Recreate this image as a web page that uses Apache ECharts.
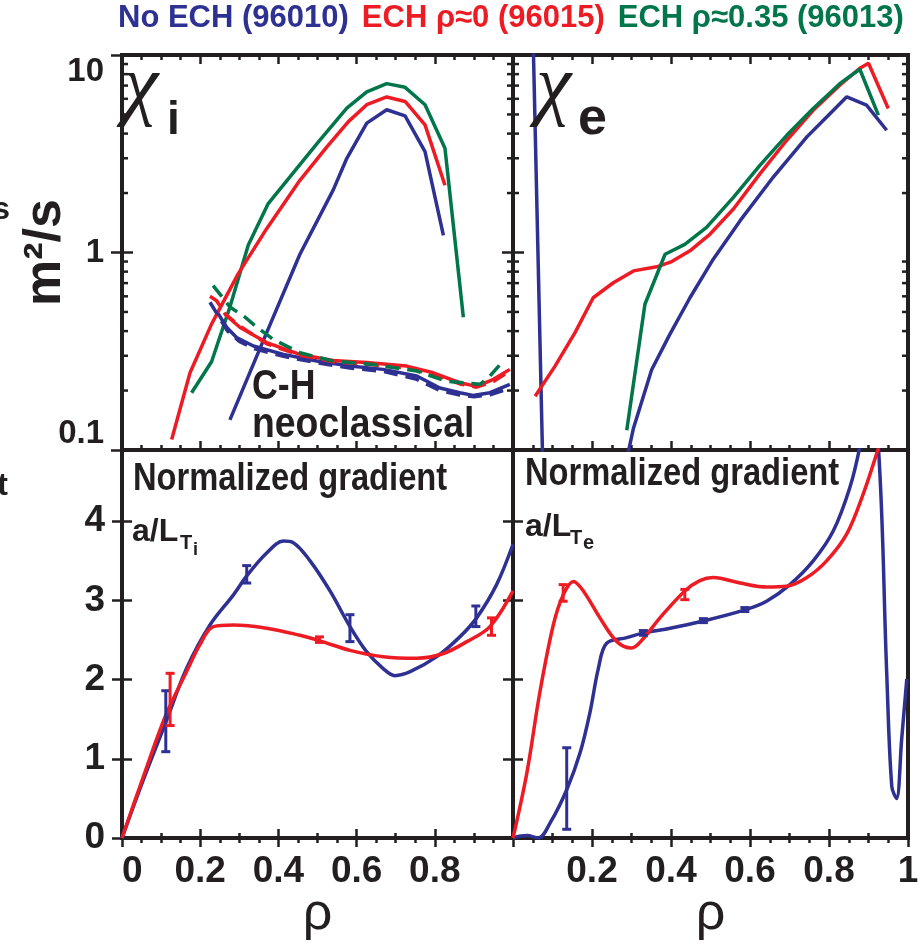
<!DOCTYPE html>
<html>
<head>
<meta charset="utf-8">
<style>
html, body { margin: 0; padding: 0; background: #fff; }
#chart { width: 923px; height: 947px; }
</style>
<script src="https://cdn.jsdelivr.net/npm/echarts@6/dist/echarts.min.js"></script>
</head>
<body>
<div id="chart"></div>
<script>
// case names (legend)
const NAME_NO = 'No ECH (96010)';
const NAME_0 = 'ECH ρ≈0 (96015)';
const NAME_35 = 'ECH ρ≈0.35 (96013)';

// chi_i  [rho, m2/s]
const chiI_no = [[0.276,0.142],[0.37,0.393],[0.455,0.98],[0.54,2.07],[0.575,3.0],[0.626,4.52],[0.677,5.28],[0.724,4.92],[0.775,3.24],[0.822,1.22]];
const chiI_0 = [[0.127,0.113],[0.174,0.246],[0.229,0.434],[0.297,0.78],[0.37,1.32],[0.455,2.32],[0.524,3.43],[0.579,4.6],[0.626,5.6],[0.677,6.13],[0.724,5.82],[0.775,4.43],[0.826,2.19]];
const chiI_35 = [[0.178,0.195],[0.229,0.28],[0.276,0.53],[0.323,1.09],[0.374,1.77],[0.43,2.42],[0.506,3.71],[0.575,5.38],[0.626,6.5],[0.677,7.16],[0.724,6.86],[0.775,5.6],[0.826,3.37],[0.873,0.47]];

// C-H neoclassical chi_i
const neo_no = [[0.246,0.49],[0.268,0.417],[0.293,0.371],[0.336,0.336],[0.413,0.305],[0.498,0.282],[0.583,0.266],[0.668,0.256],[0.754,0.237],[0.813,0.206],[0.864,0.195],[0.898,0.189],[0.941,0.195],[0.992,0.215]];
const neo_no_dash = [[0.225,0.56],[0.24,0.5],[0.27,0.4],[0.3,0.355],[0.34,0.325],[0.413,0.298],[0.5,0.276],[0.583,0.26],[0.668,0.25],[0.754,0.228],[0.813,0.2],[0.864,0.19],[0.9,0.186],[0.941,0.19],[0.99,0.205]];
const neo_0 = [[0.263,0.487],[0.302,0.417],[0.37,0.35],[0.455,0.305],[0.54,0.284],[0.626,0.277],[0.728,0.266],[0.796,0.246],[0.864,0.219],[0.907,0.21],[0.95,0.228],[0.992,0.256]];
const neo_0_dash = [[0.225,0.6],[0.242,0.57],[0.263,0.49],[0.297,0.43],[0.37,0.345],[0.455,0.302],[0.54,0.28],[0.626,0.272],[0.728,0.26],[0.796,0.242],[0.864,0.216],[0.907,0.208],[0.95,0.222],[0.99,0.25]];
const neo_35_dash = [[0.233,0.68],[0.255,0.6],[0.276,0.53],[0.315,0.47],[0.344,0.42],[0.387,0.363],[0.455,0.311],[0.54,0.282],[0.643,0.271],[0.754,0.251],[0.83,0.223],[0.916,0.215],[0.941,0.237],[0.971,0.277]];

// chi_e
const chiE_no_edge = [[0.051,12],[0.075,0.09]];
const chiE_no = [[0.288,0.09],[0.305,0.129],[0.351,0.255],[0.397,0.385],[0.448,0.59],[0.507,0.925],[0.575,1.45],[0.659,2.41],[0.744,3.85],[0.803,5.06],[0.845,6.14],[0.895,5.57],[0.946,4.16]];
const chiE_0 = [[0.056,0.187],[0.106,0.265],[0.157,0.393],[0.203,0.59],[0.254,0.703],[0.305,0.807],[0.364,0.846],[0.402,0.9],[0.448,1.02],[0.499,1.24],[0.558,1.66],[0.625,2.5],[0.693,3.7],[0.76,5.25],[0.828,7.05],[0.878,8.57],[0.9,9.08],[0.95,5.36]];
const chiE_35 = [[0.288,0.126],[0.334,0.547],[0.385,0.98],[0.435,1.1],[0.49,1.34],[0.558,1.9],[0.625,2.76],[0.693,3.92],[0.76,5.36],[0.828,7.18],[0.878,8.47],[0.925,4.96]];

// normalized gradients a/L_Ti, a/L_Te
const gradTi_no = [[0,0],[0.055,0.74],[0.112,1.46],[0.165,2.14],[0.225,2.69],[0.285,3.07],[0.319,3.31],[0.37,3.6],[0.413,3.75],[0.438,3.73],[0.481,3.5],[0.532,3.12],[0.583,2.67],[0.626,2.35],[0.668,2.14],[0.698,2.05],[0.737,2.1],[0.805,2.29],[0.864,2.54],[0.907,2.78],[0.958,3.2],[1.0,3.71]];
const gradTi_0 = [[0,0],[0.055,0.78],[0.112,1.55],[0.165,2.1],[0.199,2.44],[0.234,2.67],[0.285,2.69],[0.37,2.65],[0.455,2.56],[0.506,2.49],[0.583,2.37],[0.668,2.29],[0.754,2.27],[0.822,2.33],[0.882,2.48],[0.941,2.67],[1.0,3.12]];
const gradTe_no = [[0,0],[0.035,0.03],[0.064,0],[0.094,0.19],[0.136,0.61],[0.17,1.08],[0.195,1.59],[0.216,2.14],[0.237,2.46],[0.288,2.53],[0.33,2.59],[0.389,2.64],[0.482,2.74],[0.587,2.88],[0.642,2.99],[0.701,3.2],[0.76,3.5],[0.811,3.88],[0.853,4.43],[0.878,4.94],[0.9,5.6],[0.925,4.94],[0.946,2.1],[0.959,0.65],[0.971,0.5],[0.984,1.25],[0.997,2.01]];
const gradTe_0 = [[0,0],[0.035,0.82],[0.068,1.84],[0.102,2.69],[0.127,3.07],[0.153,3.24],[0.178,3.12],[0.22,2.78],[0.263,2.48],[0.3,2.4],[0.33,2.52],[0.372,2.78],[0.435,3.12],[0.473,3.25],[0.507,3.29],[0.575,3.22],[0.642,3.17],[0.693,3.18],[0.744,3.29],[0.794,3.5],[0.845,3.84],[0.887,4.35],[0.925,4.92],[0.93,5.0]];

// error bars [rho, low, high]
const errTi_no = [[0.112,1.09,1.86],[0.319,3.22,3.44],[0.583,2.48,2.82],[0.905,2.67,2.93]];
const errTi_0 = [[0.123,1.42,2.08],[0.505,2.47,2.54],[0.945,2.56,2.78]];
const errTe_no = [[0.136,0.11,1.14],[0.33,2.56,2.62],[0.482,2.72,2.77],[0.587,2.86,2.91]];
const errTe_0 = [[0.127,2.99,3.2],[0.435,3.01,3.14]];

// axis ticks
const logMinorTicks = [0.2,0.3,0.4,0.5,0.6,0.7,0.8,0.9,2,3,4,5,6,7,8,9];

const INK = '#231f20';
const BLUE = '#2e3192', RED = '#ed1c24', GREEN = '#00764a';
const SANS = '"Liberation Sans", Arial, sans-serif';
const SERIF = '"Liberation Serif", "DejaVu Serif", serif';

const chart = echarts.init(document.getElementById('chart'));

const grids = [
  { left: 122, top: 55, width: 391, height: 395 },
  { left: 513, top: 55, width: 395, height: 395 },
  { left: 122, top: 450, width: 391, height: 388 },
  { left: 513, top: 450, width: 395, height: 388 }
].map(g => Object.assign({ show: true, borderWidth: 4, borderColor: INK, backgroundColor: 'transparent' }, g));

const tickStyle = { color: INK, width: 2.5 };

function xAx(g, pos, minorSplit, label) {
  return {
    type: 'value', gridIndex: g, position: pos, min: 0, max: 1, interval: 0.2,
    axisLine: { show: false },
    axisTick: { show: true, inside: true, length: 9, lineStyle: tickStyle },
    minorTick: { show: true, splitNumber: minorSplit, length: 5, lineStyle: tickStyle },
    splitLine: { show: false },
    axisLabel: label || { show: false }
  };
}

function logY(g, pos, label, extra) {
  return Object.assign({
    type: 'log', logBase: 10, gridIndex: g, position: pos, min: 0.1, max: 10,
    axisLine: { show: false },
    axisTick: { show: true, inside: true, length: 11, lineStyle: tickStyle },
    splitLine: { show: false },
    axisLabel: label || { show: false }
  }, extra || {});
}

function linY(g, pos, label, extra) {
  return Object.assign({
    type: 'value', gridIndex: g, position: pos, min: 0, max: 4.9, interval: 1,
    axisLine: { show: false },
    axisTick: { show: true, inside: true, length: 10, lineStyle: tickStyle },
    splitLine: { show: false },
    axisLabel: label || { show: false }
  }, extra || {});
}

const xLabel = (hideMin, hideMax) => ({
  show: true, color: INK, fontFamily: SANS, fontWeight: 'bold', fontSize: 37, margin: 15,
  showMinLabel: !hideMin, showMaxLabel: !hideMax, alignMinLabel: 'left',
  formatter: v => (v === 0 ? '0' : v >= 0.999 ? '1' : v.toFixed(1))
});

const rhoName = { name: 'ρ', nameLocation: 'middle', nameGap: 51, nameMoveOverlap: false,
  nameTextStyle: { fontFamily: SANS, fontSize: 52, color: INK } };

const xAxes = [
  xAx(0, 'bottom', 4), xAx(0, 'top', 4),
  xAx(1, 'bottom', 4), xAx(1, 'top', 4),
  Object.assign(xAx(2, 'bottom', 2, xLabel(false, true)), rhoName), xAx(2, 'top', 4),
  Object.assign(xAx(3, 'bottom', 2, xLabel(true, false)), rhoName), xAx(3, 'top', 4)
];

const yAxes = [
  logY(0, 'left', {
    show: true, color: INK, fontFamily: SANS, fontWeight: 'bold', fontSize: 33, margin: 18,
    verticalAlignMinLabel: 'bottom', verticalAlignMaxLabel: 'top',
    formatter: v => (v < 0.5 ? '0.1' : v < 5 ? '1' : '10')
  }, {
    name: 'm²/s', nameLocation: 'middle', nameGap: 50, nameRotate: 90, nameMoveOverlap: false,
    nameTextStyle: { fontFamily: SANS, fontWeight: 'bold', fontSize: 52, color: INK }
  }),
  logY(0, 'right'),
  logY(1, 'left'), logY(1, 'right'),
  linY(2, 'left', {
    show: true, color: INK, fontFamily: SANS, fontWeight: 'bold', fontSize: 37, margin: 17,
    showMaxLabel: false
  }),
  linY(2, 'right'),
  linY(3, 'left'), linY(3, 'right')
];

function line(name, color, g, data, dashed, smooth) {
  return {
    type: 'line', name, xAxisIndex: 2 * g, yAxisIndex: 2 * g, data,
    symbol: 'none', showSymbol: false, smooth: smooth ? 0.35 : false, clip: true,
    lineStyle: { color, width: 3.5, type: dashed ? [14, 8] : 'solid' },
    itemStyle: { color }, z: 3
  };
}

function errBars(name, color, g, data) {
  return {
    type: 'custom', name, xAxisIndex: 2 * g, yAxisIndex: 2 * g, data, z: 5,
    encode: { x: 0, y: [1, 2] },
    renderItem: (params, api) => {
      const lo = api.coord([api.value(0), api.value(1)]);
      const hi = api.coord([api.value(0), api.value(2)]);
      const w = 4.5;
      const st = { stroke: color, lineWidth: 3 };
      return { type: 'group', children: [
        { type: 'line', shape: { x1: lo[0], y1: lo[1], x2: hi[0], y2: hi[1] }, style: st },
        { type: 'line', shape: { x1: lo[0] - w, y1: lo[1], x2: lo[0] + w, y2: lo[1] }, style: st },
        { type: 'line', shape: { x1: hi[0] - w, y1: hi[1], x2: hi[0] + w, y2: hi[1] }, style: st }
      ] };
    }
  };
}

function logMinor(g) {
  return {
    type: 'custom', xAxisIndex: 2 * g, yAxisIndex: 2 * g, silent: true, z: 1,
    data: logMinorTicks.map(v => [0, v]),
    renderItem: (params, api) => {
      const y = api.coord([0, api.value(1)])[1];
      const cs = params.coordSys;
      const st = { stroke: INK, lineWidth: 2.5 };
      return { type: 'group', children: [
        { type: 'line', shape: { x1: cs.x, y1: y, x2: cs.x + 6, y2: y }, style: st },
        { type: 'line', shape: { x1: cs.x + cs.width, y1: y, x2: cs.x + cs.width - 6, y2: y }, style: st }
      ] };
    }
  };
}

// text placed by its baseline; sx squeezes it horizontally (condensed look)
function txt(text, x, baseline, size, opts) {
  opts = opts || {};
  const fam = opts.family || SANS;
  return {
    type: 'text', x: x, y: baseline - 0.35 * size, z: 10, silent: true,
    scaleX: opts.sx || 1,
    style: {
      text, fill: opts.color || INK,
      font: (opts.italic ? 'italic ' : '') + (opts.weight || 'bold') + ' ' + size + 'px ' + fam,
      textAlign: opts.align || 'left', textVerticalAlign: 'middle',
      align: opts.align || 'left', verticalAlign: 'middle'
    }
  };
}

const option = {
  animation: false,
  backgroundColor: '#fff',
  grid: grids,
  xAxis: xAxes,
  yAxis: yAxes,
  legend: {
    left: 113, top: 0, padding: [3, 0, 0, 0], itemWidth: 0, itemHeight: 0, itemGap: 8,
    icon: 'rect', selectedMode: false,
    textStyle: { fontFamily: SANS, fontWeight: 'bold', fontSize: 31 },
    data: [
      { name: NAME_NO, textStyle: { color: BLUE } },
      { name: NAME_0, textStyle: { color: RED } },
      { name: NAME_35, textStyle: { color: GREEN } }
    ]
  },
  graphic: [
    txt('χ', 123, 117, 80, { family: SERIF, weight: 'normal', italic: true }),
    txt('i', 167, 137, 46),
    txt('χ', 536, 117, 80, { family: SERIF, weight: 'normal', italic: true }),
    txt('e', 578, 138, 52),
    txt('C-H', 252, 402, 42, { sx: 0.85 }),
    txt('neoclassical', 252, 440, 42, { sx: 0.89 }),
    txt('Normalized gradient', 133, 493, 38, { sx: 0.86 }),
    txt('a/L', 132, 543, 32),
    txt('T', 180, 550, 20),
    txt('i', 193, 556, 18),
    txt('Normalized gradient', 525, 488, 38, { sx: 0.86 }),
    txt('a/L', 525, 538, 32),
    txt('T', 570, 545, 20),
    txt('e', 583, 550, 20),
    txt('s', 10, 221, 32, { align: 'right' }),
    txt('t', 8, 497, 32, { align: 'right' })
  ],
  series: [
    logMinor(0), logMinor(1),
    line(NAME_35, GREEN, 0, chiI_35),
    line(NAME_0, RED, 0, chiI_0),
    line(NAME_NO, BLUE, 0, chiI_no),
    line(NAME_NO, BLUE, 0, neo_no),
    line(NAME_NO, BLUE, 0, neo_no_dash, true),
    line(NAME_0, RED, 0, neo_0),
    line(NAME_0, RED, 0, neo_0_dash, true),
    line(NAME_35, GREEN, 0, neo_35_dash, true),
    line(NAME_NO, BLUE, 1, chiE_no_edge),
    line(NAME_NO, BLUE, 1, chiE_no),
    line(NAME_0, RED, 1, chiE_0),
    line(NAME_35, GREEN, 1, chiE_35),
    line(NAME_NO, BLUE, 2, gradTi_no, false, true),
    line(NAME_0, RED, 2, gradTi_0, false, true),
    errBars(NAME_NO, BLUE, 2, errTi_no),
    errBars(NAME_0, RED, 2, errTi_0),
    line(NAME_NO, BLUE, 3, gradTe_no, false, true),
    line(NAME_0, RED, 3, gradTe_0, false, true),
    errBars(NAME_NO, BLUE, 3, errTe_no),
    errBars(NAME_0, RED, 3, errTe_0)
  ]
};

chart.setOption(option);
</script>
</body>
</html>
